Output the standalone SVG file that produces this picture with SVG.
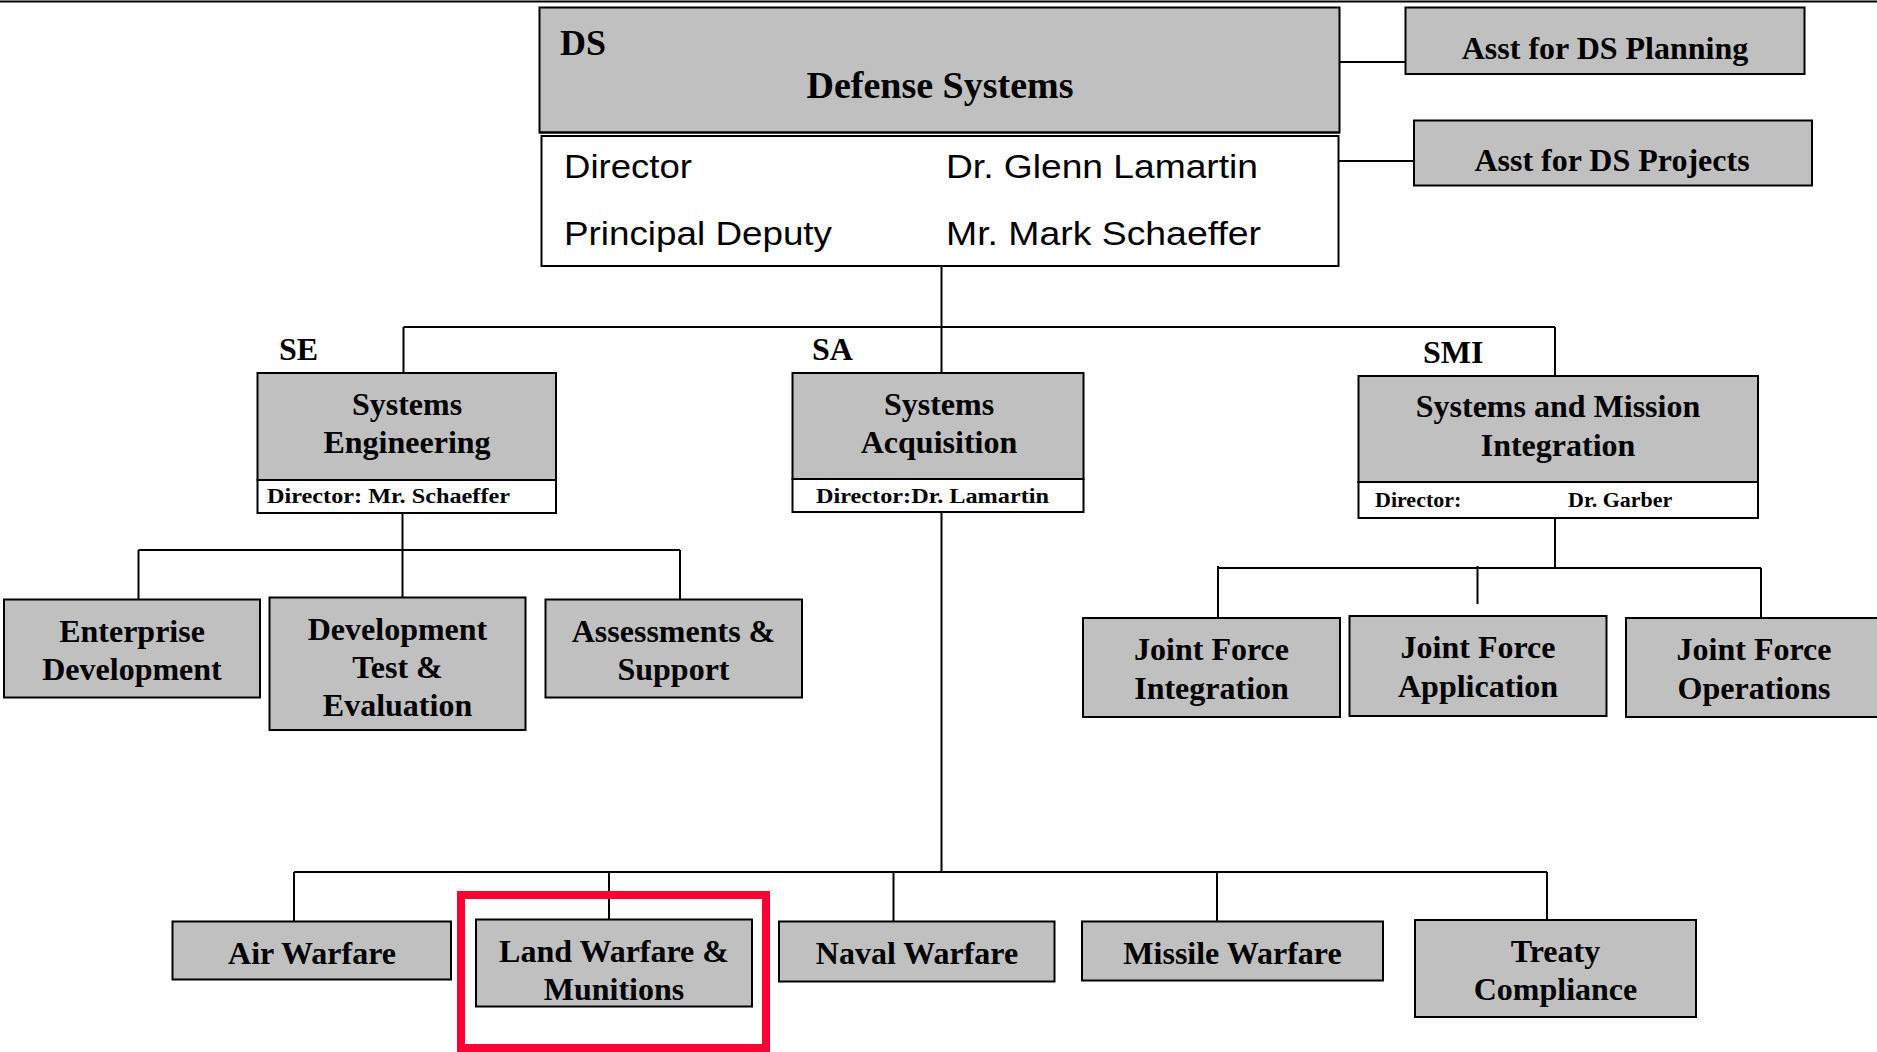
<svg xmlns="http://www.w3.org/2000/svg" width="1877" height="1052" viewBox="0 0 1877 1052">
<style>
.box{fill:#C0C0C0;stroke:#000;stroke-width:2}
.wbox{fill:#fff;stroke:#000;stroke-width:2}
.t{font-family:"Liberation Serif","Times New Roman",serif;font-weight:bold;font-size:32px;fill:#000;text-anchor:middle}
.s{font-family:"Liberation Serif","Times New Roman",serif;font-weight:bold;font-size:22px;fill:#000}
.a{font-family:"Liberation Sans",Arial,sans-serif;font-size:34px;fill:#000}
.lbl{font-family:"Liberation Serif","Times New Roman",serif;font-weight:bold;font-size:32px;fill:#000}
#connectors path{fill:none;stroke:#000;stroke-width:2}
</style>
<rect width="1877" height="1052" fill="#fff"/>
<line x1="0" y1="1.5" x2="1877" y2="1.5" stroke="#000" stroke-width="2"/>
<g id="connectors">
<path d="M1339 62H1406"/>
<path d="M1331 161H1414"/>
<path d="M941.5 266V373"/>
<path d="M403.5 327H1555"/>
<path d="M403.5 327V373"/>
<path d="M1555 327V376"/>
<path d="M402.5 513V597"/>
<path d="M138.5 550H680"/>
<path d="M138.5 550V600"/>
<path d="M680 550V600"/>
<path d="M941.5 512V872"/>
<path d="M294 872H1547"/>
<path d="M294 872V922"/>
<path d="M609 872V919"/>
<path d="M893.5 872V922"/>
<path d="M1217 872V922"/>
<path d="M1547 872V920"/>
<path d="M1555 518V568"/>
<path d="M1218 568H1761"/>
<path d="M1218 566V618"/>
<path d="M1477.5 566V604"/>
<path d="M1761 568V618"/>
</g>
<g id="ds">
<rect class="box" x="539.5" y="7.5" width="800" height="125"/>
<line x1="539" y1="132.5" x2="1340" y2="132.5" stroke="#000" stroke-width="2"/>
<rect class="wbox" x="541.5" y="136" width="797" height="130" stroke-width="2.5"/>
<text class="lbl" x="560" y="55" style="font-size:36px">DS</text>
<text class="t" x="940" y="98" style="font-size:38px">Defense Systems</text>
<text class="a" x="564" y="178" textLength="128" lengthAdjust="spacingAndGlyphs">Director</text>
<text class="a" x="946" y="178" textLength="312" lengthAdjust="spacingAndGlyphs">Dr. Glenn Lamartin</text>
<text class="a" x="564" y="245" textLength="268" lengthAdjust="spacingAndGlyphs">Principal Deputy</text>
<text class="a" x="946" y="245" textLength="315" lengthAdjust="spacingAndGlyphs">Mr. Mark Schaeffer</text>
</g>
<g id="asst-planning">
<rect class="box" x="1405.5" y="7.5" width="399" height="66.5"/>
<text class="t" x="1605" y="59">Asst for DS Planning</text>
</g>
<g id="asst-projects">
<rect class="box" x="1414" y="120.5" width="398" height="65"/>
<text class="t" x="1612" y="171">Asst for DS Projects</text>
</g>
<g id="se">
<text class="lbl" x="279" y="360">SE</text>
<rect class="box" x="257.5" y="373" width="298.5" height="107"/>
<rect class="wbox" x="257.5" y="480" width="298.5" height="33"/>
<text class="t" x="407" y="415">Systems</text>
<text class="t" x="407" y="453">Engineering</text>
<text class="s" x="267" y="503" textLength="243" lengthAdjust="spacingAndGlyphs">Director: Mr. Schaeffer</text>
</g>
<g id="sa">
<text class="lbl" x="812" y="360">SA</text>
<rect class="box" x="792.5" y="373" width="291" height="106"/>
<rect class="wbox" x="792.5" y="479" width="291" height="33"/>
<text class="t" x="939" y="415">Systems</text>
<text class="t" x="939" y="453">Acquisition</text>
<text class="s" x="816" y="503" textLength="233" lengthAdjust="spacingAndGlyphs">Director:Dr. Lamartin</text>
</g>
<g id="smi">
<text class="lbl" x="1423" y="363">SMI</text>
<rect class="box" x="1358.5" y="376" width="399.5" height="106"/>
<rect class="wbox" x="1358.5" y="482" width="399.5" height="36"/>
<text class="t" x="1558" y="417">Systems and Mission</text>
<text class="t" x="1558" y="456">Integration</text>
<text class="s" x="1375" y="507">Director:</text>
<text class="s" x="1568" y="507">Dr. Garber</text>
</g>
<g id="enterprise-dev">
<rect class="box" x="4" y="599.5" width="256" height="98"/>
<text class="t" x="132" y="642">Enterprise</text>
<text class="t" x="132" y="680">Development</text>
</g>
<g id="dte">
<rect class="box" x="269.5" y="597.5" width="256" height="132.5"/>
<text class="t" x="397.5" y="640">Development</text>
<text class="t" x="397.5" y="678">Test &amp;</text>
<text class="t" x="397.5" y="716">Evaluation</text>
</g>
<g id="assessments">
<rect class="box" x="545.5" y="599.5" width="256.5" height="98"/>
<text class="t" x="673.5" y="642">Assessments &amp;</text>
<text class="t" x="673.5" y="680">Support</text>
</g>
<g id="jfi">
<rect class="box" x="1083" y="618" width="257" height="99"/>
<text class="t" x="1211.5" y="660">Joint Force</text>
<text class="t" x="1211.5" y="699">Integration</text>
</g>
<g id="jfa">
<rect class="box" x="1349.5" y="616" width="257" height="100"/>
<text class="t" x="1478" y="658">Joint Force</text>
<text class="t" x="1478" y="697">Application</text>
</g>
<g id="jfo">
<rect class="box" x="1626" y="618" width="260" height="99"/>
<text class="t" x="1754" y="660">Joint Force</text>
<text class="t" x="1754" y="699">Operations</text>
</g>
<g id="air-warfare">
<rect class="box" x="172.5" y="921.5" width="278.5" height="58"/>
<text class="t" x="312" y="964">Air Warfare</text>
</g>
<g id="land-warfare">
<rect class="box" x="476" y="919.5" width="276" height="87"/>
<text class="t" x="614" y="962">Land Warfare &amp;</text>
<text class="t" x="614" y="1000">Munitions</text>
</g>
<g id="naval-warfare">
<rect class="box" x="779" y="921.5" width="275.5" height="60"/>
<text class="t" x="917" y="964">Naval Warfare</text>
</g>
<g id="missile-warfare">
<rect class="box" x="1082" y="921.5" width="301" height="59"/>
<text class="t" x="1232.5" y="964">Missile Warfare</text>
</g>
<g id="treaty">
<rect class="box" x="1415" y="920" width="281" height="97"/>
<text class="t" x="1555.5" y="962">Treaty</text>
<text class="t" x="1555.5" y="1000">Compliance</text>
</g>
<g id="highlight">
<rect x="461" y="895" width="305" height="153" fill="none" stroke="#FF0033" stroke-width="8"/>
</g>
</svg>
